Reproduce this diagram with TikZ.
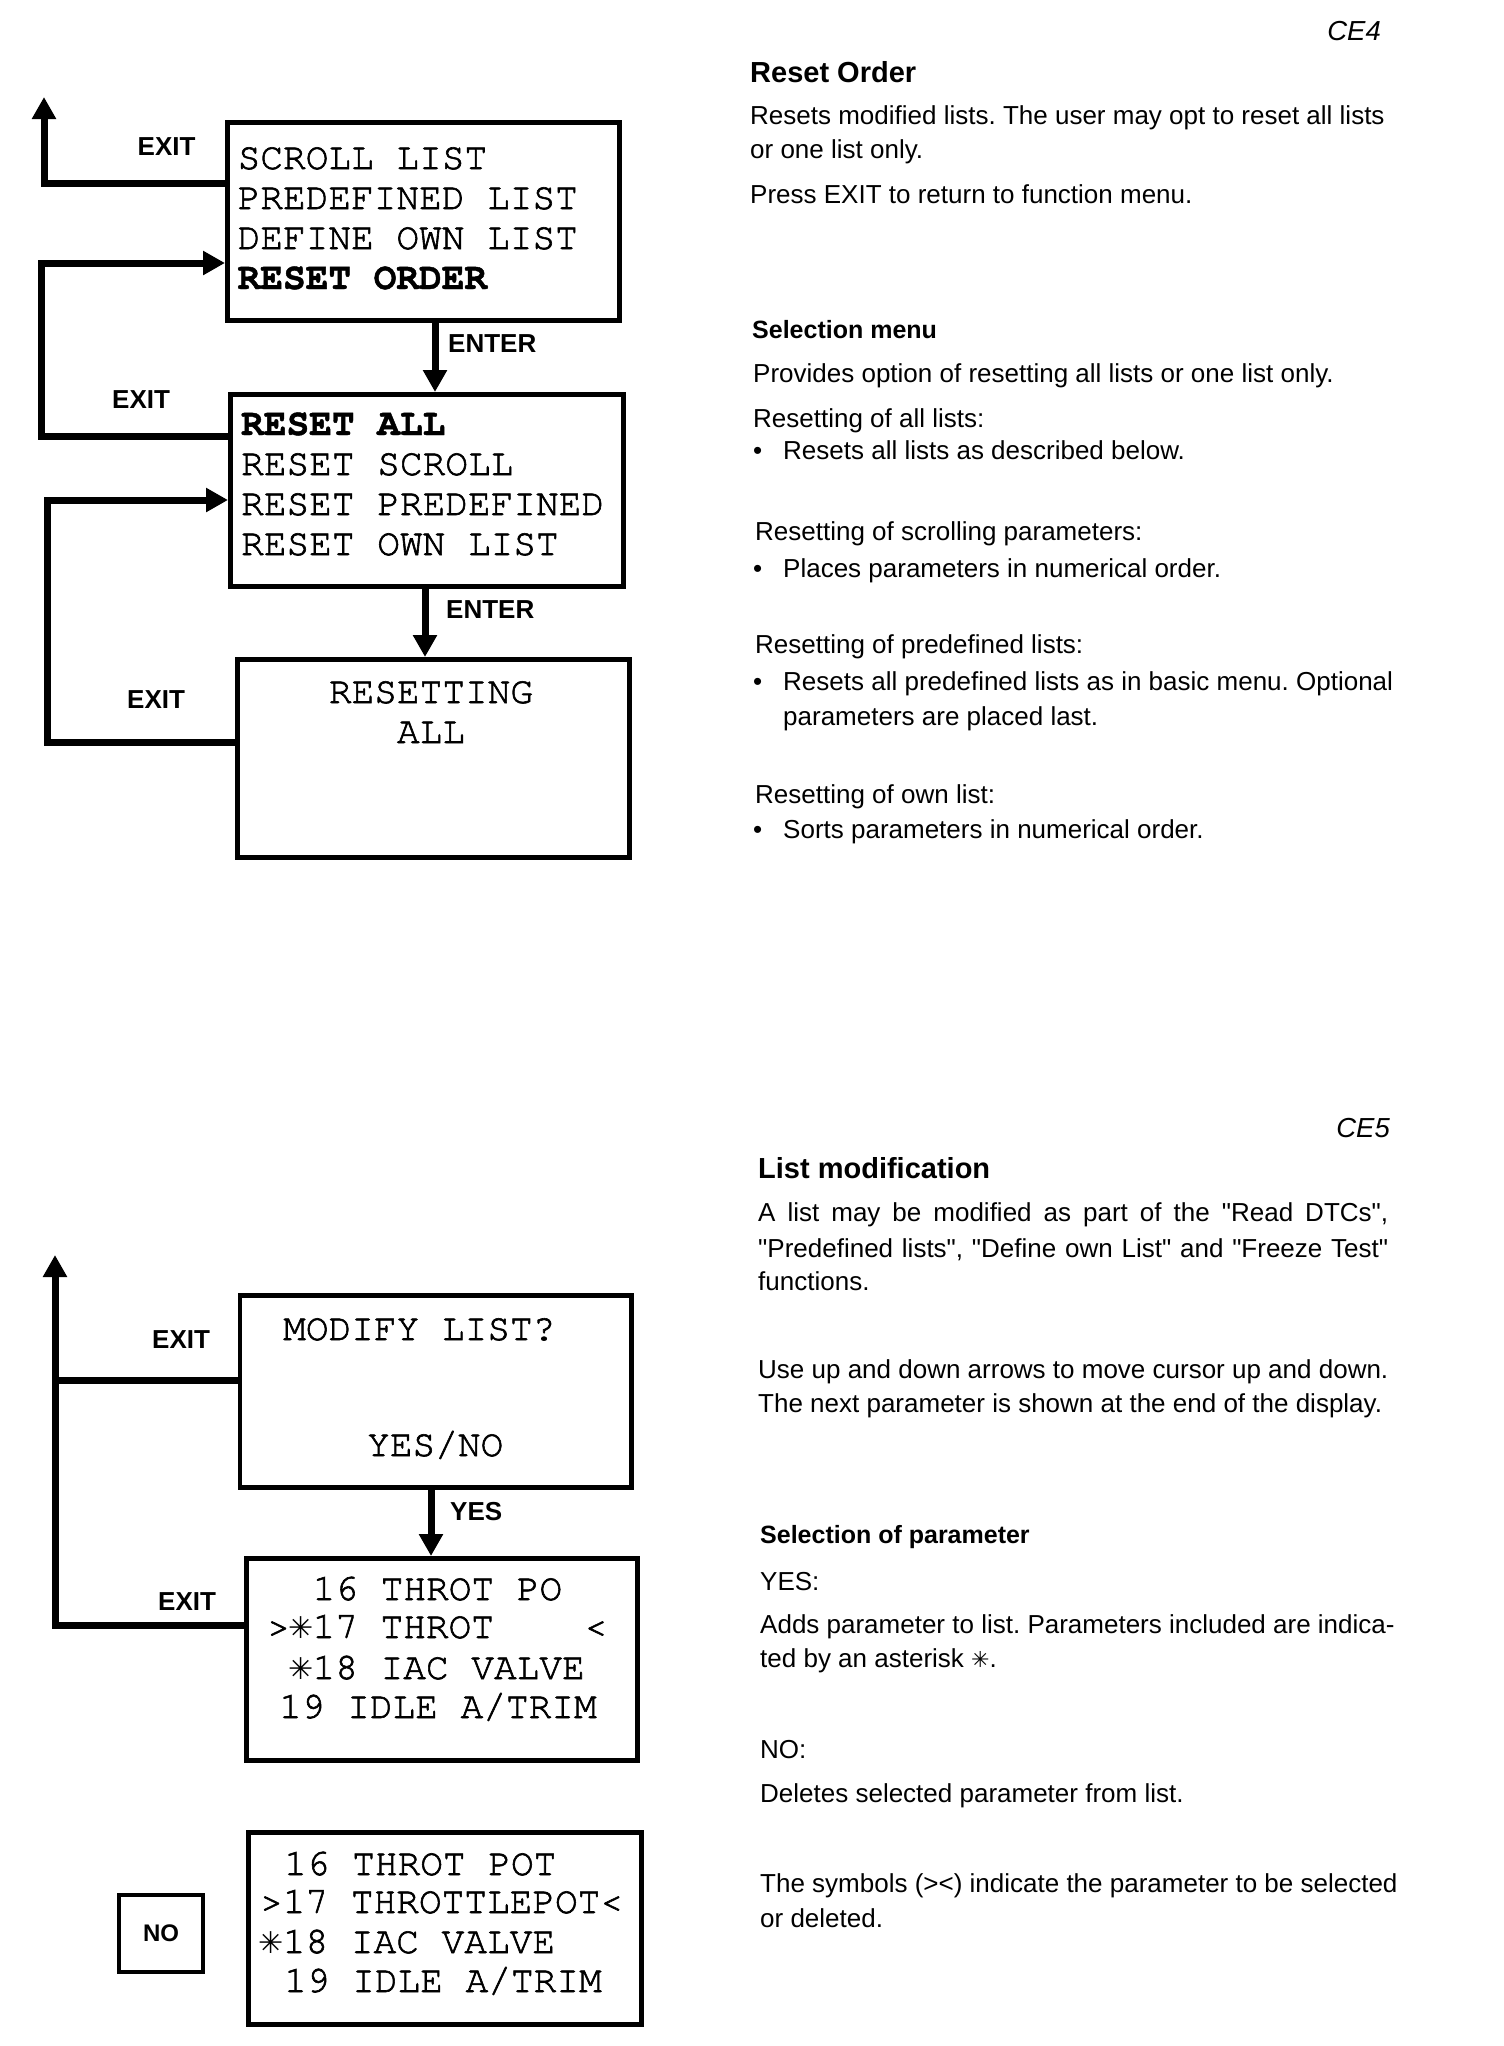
\documentclass[tikz,border=0pt]{standalone}
\usepackage{fontspec}
\setmainfont{Liberation Sans}[Ligatures=TeXOff]
\newfontfamily\lcd{texgyrecursor-regular.otf}[FakeBold=1.6]
\newfontfamily\lcdbf{texgyrecursor-bold.otf}[FakeBold=1.2]
\newfontfamily\symfnt{DejaVu Sans}
\usetikzlibrary{arrows.meta}
\newcommand\lcdstar{\makebox[0.6em]{\symfnt\fontsize{30}{30}\selectfont ✳}}
\newcommand\txtstar{{\symfnt\fontsize{22}{26}\selectfont ✳}}
\frenchspacing
\tikzset{
  box/.style={draw, line width=4.5pt, rectangle, inner sep=0pt, anchor=north west},
  conn/.style={line width=7pt},
  arr/.style={conn, -{Triangle[length=22pt,width=23pt]}},
  lcdt/.style={font=\lcd\fontsize{37.8}{40}\selectfont, anchor=base west, inner sep=0pt},
  lcdb/.style={lcdt, font=\lcdbf\fontsize{37.8}{40}\selectfont},
  lbl/.style={font=\bfseries\fontsize{26}{30}\selectfont, anchor=base west, inner sep=0pt},
  txbody/.style={font=\frenchspacing\fontsize{26}{31}\selectfont, anchor=base west, inner sep=0pt},
  txhd/.style={font=\bfseries\fontsize{29}{33}\selectfont, anchor=base west, inner sep=0pt},
  txsub/.style={font=\bfseries\fontsize{25}{30}\selectfont, anchor=base west, inner sep=0pt},
  txpg/.style={font=\itshape\fontsize{27.5}{30}\selectfont, anchor=base east, inner sep=0pt}
}
\begin{document}
\begin{tikzpicture}[x=1pt,y=-1pt]
\fill[white] (0,0) rectangle (1504,2046);
\useasboundingbox (0,0) rectangle (1504,2046);

% ---------- top diagram ----------
\node[box, minimum width=392pt, minimum height=198pt] (b1) at (225,120) {};
\node[box, minimum width=393pt, minimum height=192pt] (b2) at (228,392) {};
\node[box, minimum width=392pt, minimum height=198pt] (b3) at (235,657) {};

\node[lcdt] (b1t1) at (237.5,169) {SCROLL LIST};
\node[lcdt] (b1t2) at (237.5,209) {PREDEFINED LIST};
\node[lcdt] (b1t3) at (237.5,249) {DEFINE OWN LIST};
\node[lcdb] (b1t4) at (237.5,289) {RESET ORDER};

\node[lcdb] (b2t1) at (241,435) {RESET ALL};
\node[lcdt] (b2t2) at (241,475) {RESET SCROLL};
\node[lcdt] (b2t3) at (241,515) {RESET PREDEFINED};
\node[lcdt] (b2t4) at (241,555) {RESET OWN LIST};

\node[lcdt, anchor=base] (b3t1) at (431,703) {RESETTING};
\node[lcdt, anchor=base] (b3t2) at (431,743) {ALL};

\coordinate (up1) at (44,97);
\coordinate (ex1) at (44,183);
\draw[arr] (b1.west |- ex1) -| (up1);
\coordinate (l2a) at (41,436);
\coordinate (l2b) at (41,263);
\draw[arr] (b2.west |- l2a) -- (l2a) -- (l2b) -- (b1.west |- l2b);
\coordinate (l3a) at (47,742);
\coordinate (l3b) at (47,500);
\draw[arr] (b3.west |- l3a) -- (l3a) -- (l3b) -- (b2.west |- l3b);
\coordinate (en1) at (435,350);
\draw[arr] (b1.south -| en1) -- (b2.north -| en1);
\coordinate (en2) at (425,620);
\draw[arr] (b2.south -| en2) -- (b3.north -| en2);

\node[lbl] (x1) at (137.5,155) {EXIT};
\node[lbl] (x2) at (112,408) {EXIT};
\node[lbl] (x3) at (127,708) {EXIT};
\node[lbl] (e1) at (448,352) {ENTER};
\node[lbl] (e2) at (446,618) {ENTER};

% ---------- bottom diagram ----------
\node[box, minimum width=391.5pt, minimum height=192pt] (b4) at (237.5,1293) {};
\node[box, minimum width=391pt, minimum height=202pt] (b5) at (244,1556) {};
\node[box, minimum width=393pt, minimum height=192pt] (b6) at (246,1830) {};
\node[draw, line width=4.5pt, rectangle, inner sep=0pt, minimum width=84pt, minimum height=77pt,
      font=\bfseries\fontsize{24}{28}\selectfont] (nobox) at (161,1933.5) {NO};

\node[lcdt] (b4t1) at (283,1340) {MODIFY LIST?};
\node[lcdt] (b4t2) at (367,1456) {YES/NO};

\node[lcdt] (b5t1) at (312.5,1600) {16 THROT PO};
\node[lcdt] (b5t2) at (267,1638) {>\lcdstar17 THROT\hphantom{0000}<};
\node[lcdt] (b5t3) at (289.7,1679) {\lcdstar18 IAC VALVE};
\node[lcdt] (b5t4) at (279,1718) {19 IDLE A/TRIM};

\node[lcdt] (b6t1) at (284,1875) {16 THROT POT};
\node[lcdt] (b6t2) at (260,1913) {>17 THROTTLEPOT<};
\node[lcdt] (b6t3) at (260,1953) {\lcdstar18 IAC VALVE};
\node[lcdt] (b6t4) at (284,1992) {19 IDLE A/TRIM};

\coordinate (up2) at (55,1255);
\coordinate (ex4) at (55,1380);
\coordinate (ex5) at (55,1625);
\draw[arr] (b5.west |- ex5) -| (up2);
\draw[conn] (b4.west |- ex4) -- (ex4);
\coordinate (ys) at (431,1520);
\draw[arr] (b4.south -| ys) -- (b5.north -| ys);

\node[lbl] (x4) at (152,1348) {EXIT};
\node[lbl] (x5) at (158,1610) {EXIT};
\node[lbl] (y1) at (450,1520) {YES};

% ---------- right text, CE4 ----------
\node[txpg] (ce4) at (1381,40) {CE4};
\node[txhd] (h1) at (750,82) {Reset Order};
\node[txbody] (p1) at (750,124) {Resets modified lists. The user may opt to reset all lists};
\node[txbody] (p2) at (750,158) {or one list only.};
\node[txbody] (p3) at (750,203) {Press EXIT to return to function menu.};
\node[txsub] (h2) at (752,338) {Selection menu};
\node[txbody] (p4) at (753,382) {Provides option of resetting all lists or one list only.};
\node[txbody] (p5) at (753,427) {Resetting of all lists:};
\node[txbody] (bu1) at (753,459) {•};
\node[txbody] (p6) at (783,459) {Resets all lists as described below.};
\node[txbody] (p7) at (755,540) {Resetting of scrolling parameters:};
\node[txbody] (bu2) at (753,577) {•};
\node[txbody] (p8) at (783,577) {Places parameters in numerical order.};
\node[txbody] (p9) at (755,653) {Resetting of predefined lists:};
\node[txbody] (bu3) at (753,690) {•};
\node[txbody] (p10) at (783,690) {Resets all predefined lists as in basic menu. Optional};
\node[txbody] (p11) at (783,725) {parameters are placed last.};
\node[txbody] (p12) at (755,803) {Resetting of own list:};
\node[txbody] (bu4) at (753,838) {•};
\node[txbody] (p13) at (783,838) {Sorts parameters in numerical order.};

% ---------- right text, CE5 ----------
\node[txpg] (ce5) at (1390,1137) {CE5};
\node[txhd] (h3) at (758,1178) {List modification};
\node[txbody] (q1) at (758,1221) {\makebox[630pt][s]{A list may be modified as part of the "Read DTCs",}};
\node[txbody] (q2) at (758,1257) {\makebox[630pt][s]{"Predefined lists", "Define own List" and "Freeze Test"}};
\node[txbody] (q3) at (758,1290) {functions.};
\node[txbody] (q4) at (758,1378) {Use up and down arrows to move cursor up and down.};
\node[txbody] (q5) at (758,1412) {The next parameter is shown at the end of the display.};
\node[txsub] (h4) at (760,1543) {Selection of parameter};
\node[txbody] (q6) at (760,1590) {YES:};
\node[txbody] (q7) at (760,1633) {Adds parameter to list. Parameters included are indica-};
\node[txbody] (q8) at (760,1667) {ted by an asterisk \txtstar.};
\node[txbody] (q9) at (760,1758) {NO:};
\node[txbody] (q10) at (760,1802) {Deletes selected parameter from list.};
\node[txbody] (q11) at (760,1892) {The symbols (><) indicate the parameter to be selected};
\node[txbody] (q12) at (760,1927) {or deleted.};
\end{tikzpicture}
\end{document}
